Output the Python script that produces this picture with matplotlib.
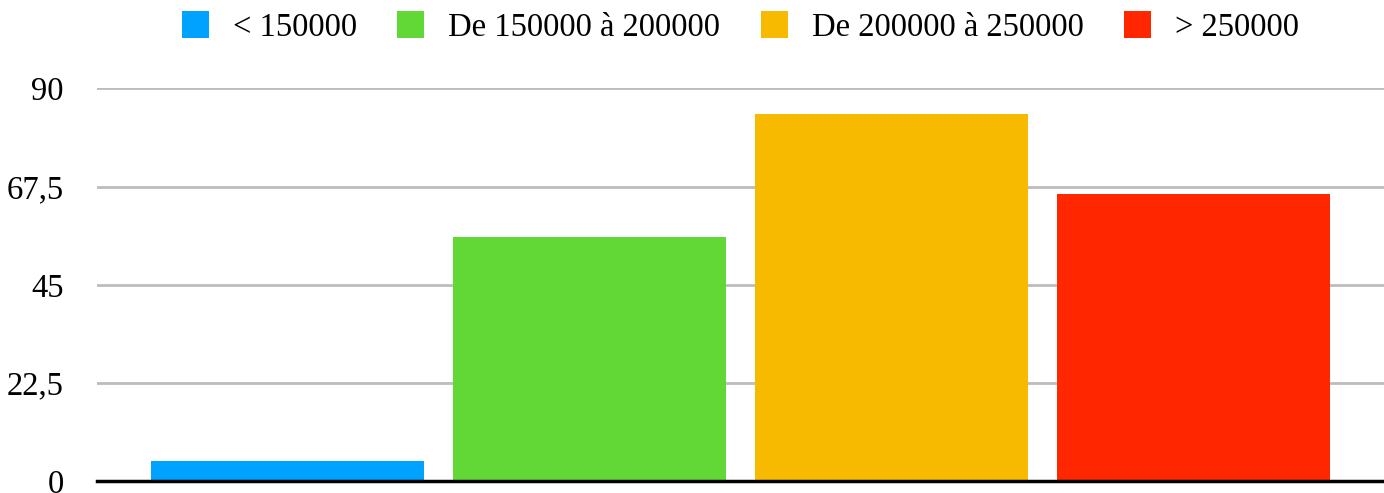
import numpy as np
import matplotlib.pyplot as plt
from matplotlib.patches import Patch

plt.rcParams['font.family'] = ['Liberation Serif', 'DejaVu Serif']

series = ['< 150000', 'De 150000 à 200000', 'De 200000 à 250000', '> 250000']
values = [4.6, 56.0, 84.2, 65.9]
colors = ['#00a2ff', '#61d836', '#f8ba00', '#ff2600']
yticks = [0, 22.5, 45, 67.5, 90]
ytick_labels = ['0', '22,5', '45', '67,5', '90']

fig = plt.figure(figsize=(13.84, 4.93), dpi=100)
ax = fig.add_axes([0.070, 0.0243, 0.930, 0.7962])

step = 0.2347
width = 0.212
x = (np.arange(len(series)) - 1.5) * step
ax.bar(x, values, width=width, color=colors, zorder=3)

ax.set_xlim(-0.5, 0.5)
ax.set_ylim(0, 90)
ax.set_yticks(yticks)
ax.set_yticklabels(ytick_labels, fontsize=23.5)
ax.set_xticks([])
ax.tick_params(axis='y', length=0, pad=24)
ax.yaxis.grid(True, color='#bcbcbc', linewidth=2)
for s in ['top', 'right', 'left']:
    ax.spines[s].set_visible(False)
ax.spines['bottom'].set_linewidth(2.5)
ax.spines['bottom'].set_color('black')
ax.spines['bottom'].set_zorder(4)

handles = [Patch(facecolor=c, label=s) for c, s in zip(colors, series)]
fig.legend(handles=handles, loc='upper center', bbox_to_anchor=(0.535, 1.037),
           ncol=4, frameon=False, fontsize=23.5, handlelength=0.83,
           handleheight=0.89, handletextpad=0.74, columnspacing=1.23)

fig.savefig('out.png', dpi=100)
